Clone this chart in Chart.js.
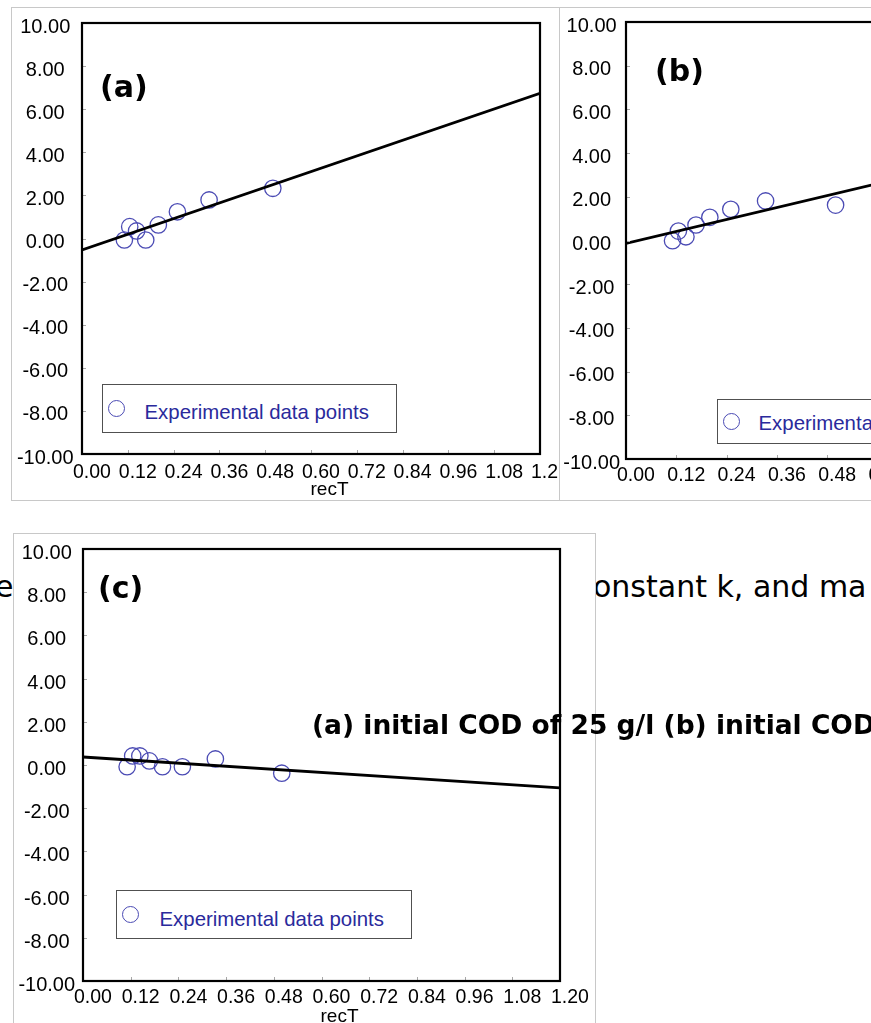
<!DOCTYPE html>
<html><head><meta charset="utf-8">
<script src="https://cdn.jsdelivr.net/npm/chart.js@4.4.0/dist/chart.umd.min.js"></script>
<style>
html,body{margin:0;padding:0;background:#fff;}
body{width:871px;height:1023px;overflow:hidden;position:relative;}
.frame{position:absolute;border:1px solid #c8c8c8;box-sizing:border-box;background:#fff;}
canvas{position:absolute;}
.lbl{position:absolute;font-family:"DejaVu Sans",sans-serif;font-weight:bold;font-size:30px;line-height:1;color:#000;white-space:nowrap;}
.lgbox{position:absolute;border:1.5px solid #505050;box-sizing:border-box;background:#fff;}
.mk{position:absolute;border:1.3px solid #4b4bb4;border-radius:50%;width:17px;height:17px;box-sizing:border-box;}
.lgtx{position:absolute;font-family:"Liberation Sans",Arial,sans-serif;font-size:20.4px;line-height:1;color:#2a2a9c;white-space:nowrap;}
.para{position:absolute;font-family:"DejaVu Sans",sans-serif;font-size:30px;line-height:1;color:#000;white-space:nowrap;}
.cap{position:absolute;font-family:"DejaVu Sans",sans-serif;font-weight:bold;font-size:26.5px;line-height:1;color:#000;white-space:nowrap;}
.xt{position:absolute;font-family:"Liberation Sans",Arial,sans-serif;font-size:19px;line-height:1;color:#000;white-space:nowrap;}
</style></head>
<body>
<!-- page paragraph text (behind panel c) -->
<div class="para" style="left:-5px;top:571.6px;z-index:1">e</div>
<div class="para" style="left:593px;top:571.6px;z-index:1">onstant k, and ma</div>

<!-- frames -->
<div class="frame" style="left:11px;top:7px;width:549px;height:494px;z-index:2"></div>
<div class="frame" style="left:559px;top:7px;width:420px;height:494px;z-index:2"></div>
<div class="frame" style="left:13px;top:533px;width:583px;height:520px;z-index:2"></div>

<canvas id="chartA" width="560" height="505" style="left:0;top:0;z-index:3"></canvas>
<canvas id="chartB" width="620" height="505" style="left:559px;top:0;z-index:3"></canvas>
<canvas id="chartC" width="600" height="493" style="left:0;top:530px;z-index:3"></canvas>

<!-- panel labels -->
<div class="lbl" style="left:100px;top:71.6px;z-index:5">(a)</div>
<div class="lbl" style="left:655px;top:55.6px;z-index:5">(b)</div>
<div class="lbl" style="left:98px;top:572.6px;z-index:5">(c)</div>

<!-- axis titles -->
<div class="xt" style="left:310.5px;top:478.5px;z-index:5">recT</div>
<div class="xt" style="left:320.5px;top:1006px;z-index:5">recT</div>

<!-- legends -->
<div class="lgbox" style="left:102px;top:384px;width:295px;height:49px;z-index:5"></div>
<div class="mk" style="left:107.5px;top:400px;z-index:6"></div>
<div class="lgtx" style="left:144.5px;top:402px;z-index:6">Experimental data points</div>

<div class="lgbox" style="left:717px;top:399px;width:330px;height:45px;z-index:5"></div>
<div class="mk" style="left:722.5px;top:412.5px;z-index:6"></div>
<div class="lgtx" style="left:758.5px;top:412.6px;z-index:6">Experimental data points</div>

<div class="lgbox" style="left:116px;top:890px;width:296px;height:49px;z-index:5"></div>
<div class="mk" style="left:121.5px;top:905.5px;z-index:6"></div>
<div class="lgtx" style="left:159.5px;top:909.4px;z-index:6">Experimental data points</div>

<!-- caption -->
<div class="cap" style="left:312px;top:711.6px;z-index:7">(a) initial COD of 25 g/l (b) initial COD</div>

<script>
const xTickValues = [0, 0.12, 0.24, 0.36, 0.48, 0.6, 0.72, 0.84, 0.96, 1.08, 1.2];
const xTickLabelsA = ['0.00','0.12','0.24','0.36','0.48','0.60','0.72','0.84','0.96','1.08','1.2'];
const xTickLabelsB = ['0.00','0.12','0.24','0.36','0.48','0.60','0.72','0.84','0.96','1.08','1.20'];
const xTickLabelsC = ['0.00','0.12','0.24','0.36','0.48','0.60','0.72','0.84','0.96','1.08','1.20'];
const yTickValues = [-10, -8, -6, -4, -2, 0, 2, 4, 6, 8, 10];
const yTickLabels = ['-10.00','-8.00','-6.00','-4.00','-2.00','0.00','2.00','4.00','6.00','8.00','10.00'];

const recT = [0.111, 0.125, 0.143, 0.167, 0.2, 0.25, 0.333, 0.5];
const expA = [-0.07, 0.55, 0.35, -0.07, 0.63, 1.24, 1.79, 2.33];
const expB = [-0.01, 0.43, 0.17, 0.71, 1.06, 1.43, 1.81, 1.62];
const expC = [-0.08, 0.42, 0.42, 0.19, -0.08, -0.08, 0.28, -0.38];

const fitX = [0, 1.2];
const fitA = [-0.53, 6.74];
const fitB = [-0.13, 5.34];
const fitC = [0.37, -1.06];

const FONT = '"Liberation Sans", Arial, sans-serif';

const framePlugin = {
  id: 'frameTicks',
  afterDatasetsDraw(chart) {
    const {ctx, chartArea: a, scales: {x, y}} = chart;
    ctx.save();
    ctx.strokeStyle = '#a8a8a8';
    ctx.lineWidth = 1;
    xTickValues.forEach(v => {
      const px = Math.round(x.getPixelForValue(v)) + 0.5;
      ctx.beginPath(); ctx.moveTo(px, a.bottom); ctx.lineTo(px, a.bottom - 4); ctx.stroke();
    });
    yTickValues.forEach(v => {
      const py = Math.round(y.getPixelForValue(v)) + 0.5;
      ctx.beginPath(); ctx.moveTo(a.left, py); ctx.lineTo(a.left + 4, py); ctx.stroke();
    });
    ctx.strokeStyle = '#000';
    ctx.lineWidth = 2.2;
    ctx.strokeRect(a.left, a.top, a.right - a.left, a.bottom - a.top);
    ctx.restore();
  }
};

function makeChart(id, g, xLabels, exp, fit) {
  return new Chart(document.getElementById(id), {
    type: 'scatter',
    data: {
      datasets: [
        {
          label: 'model',
          data: fitX.map((x, i) => ({x: x, y: fit[i]})),
          showLine: true,
          borderColor: '#000',
          borderWidth: 2.8,
          pointRadius: 0,
          fill: false,
          tension: 0
        },
        {
          label: 'Experimental data points',
          data: recT.map((x, i) => ({x: x, y: exp[i]})),
          showLine: false,
          pointStyle: 'circle',
          pointRadius: 8.2,
          pointBorderColor: '#4b4bb4',
          pointBackgroundColor: 'rgba(0,0,0,0)',
          pointBorderWidth: 1.3
        }
      ]
    },
    options: {
      responsive: false,
      animation: false,
      devicePixelRatio: 1,
      layout: {padding: {left: 0, top: g.top, right: g.right, bottom: 0}},
      plugins: {legend: {display: false}, tooltip: {enabled: false}},
      scales: {
        x: {
          type: 'linear', min: 0, max: 1.2,
          grid: {display: false, drawTicks: false},
          border: {display: false},
          afterBuildTicks: s => { s.ticks = xTickValues.map(v => ({value: v})); },
          afterFit: s => { s.height = g.xh; s.paddingLeft = 0; s.paddingRight = 0; },
          ticks: {
            autoSkip: false, maxRotation: 0, minRotation: 0,
            align: 'start', labelOffset: -9, padding: g.xpad,
            color: '#000', font: {family: FONT, size: 19.5},
            callback: (v, i) => xLabels[i]
          }
        },
        y: {
          type: 'linear', min: -10, max: 10,
          grid: {display: false, drawTicks: false},
          border: {display: false},
          afterBuildTicks: s => { s.ticks = yTickValues.map(v => ({value: v})); },
          afterFit: s => { s.width = g.yw; s.paddingTop = 0; s.paddingBottom = 0; },
          ticks: {
            autoSkip: false, crossAlign: 'center', padding: g.ypad, labelOffset: g.yoff,
            color: '#000', font: {family: FONT, size: 20},
            callback: (v, i) => yTickLabels[i]
          }
        }
      }
    },
    plugins: [framePlugin]
  });
}

makeChart('chartA', {top: 23, right: 20, xh: 51, yw: 82, xpad: 7, ypad: 8.4, yoff: 4}, xTickLabelsA, expA, fitA);
makeChart('chartB', {top: 22, right: 50, xh: 46, yw: 67, xpad: 4.5, ypad: 6, yoff: 4}, xTickLabelsB, expB, fitB);
makeChart('chartC', {top: 19, right: 40, xh: 42, yw: 83, xpad: 5.3, ypad: 7.9, yoff: 4.5}, xTickLabelsC, expC, fitC);
</script>
</body></html>
